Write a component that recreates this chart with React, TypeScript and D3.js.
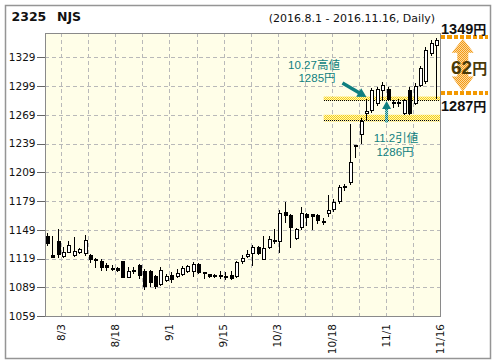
import * as d3 from 'd3';

// trading days 2016.8.1 - 2016.11.16
const dates = [
  '8/1', '8/2', '8/3', '8/4', '8/5', '8/8', '8/9', '8/10', '8/12', '8/15', '8/16', '8/17', '8/18', '8/19',
  '8/22', '8/23', '8/24', '8/25', '8/26', '8/29', '8/30', '8/31',
  '9/1', '9/2', '9/5', '9/6', '9/7', '9/8', '9/9', '9/12', '9/13', '9/14', '9/15', '9/16', '9/20', '9/21',
  '9/23', '9/26', '9/27', '9/28', '9/29', '9/30',
  '10/3', '10/4', '10/5', '10/6', '10/7', '10/11', '10/12', '10/13', '10/14', '10/17', '10/18', '10/19',
  '10/20', '10/21', '10/24', '10/25', '10/26', '10/27', '10/28', '10/31',
  '11/1', '11/2', '11/4', '11/7', '11/8', '11/9', '11/10', '11/11', '11/14', '11/15', '11/16',
];

const open = [
  1142, 1123, 1137, 1122, 1126, 1123, 1126, 1125, 1123, 1118, 1116, 1112, 1109, 1109,
  1116, 1100, 1107, 1112, 1106, 1106, 1101, 1092,
  1097, 1102, 1101, 1103, 1106, 1106, 1113, 1105, 1103, 1102, 1102, 1101, 1102, 1101,
  1116, 1122, 1125, 1131, 1119, 1131,
  1138, 1137, 1168, 1164, 1140, 1152, 1165, 1165, 1164, 1158, 1166, 1171,
  1179, 1195, 1199, 1237, 1249, 1271, 1274, 1281,
  1295, 1296, 1282, 1281, 1271, 1295, 1281, 1300, 1304, 1333, 1342,
];
const high = [
  1146, 1142, 1150, 1131, 1137, 1141, 1130, 1144, 1124, 1120, 1118, 1114, 1112, 1110,
  1116, 1110, 1110, 1113, 1108, 1107, 1102, 1110,
  1103, 1105, 1108, 1111, 1112, 1115, 1114, 1105, 1103, 1103, 1106, 1105, 1106, 1116,
  1123, 1128, 1133, 1132, 1142, 1142,
  1150, 1170, 1178, 1165, 1151, 1173, 1166, 1165, 1165, 1161, 1185, 1181,
  1196, 1197, 1259, 1237, 1266, 1285, 1297, 1298,
  1303, 1298, 1284, 1285, 1285, 1298, 1302, 1320, 1340, 1347, 1349,
];
const low = [
  1133, 1121, 1121, 1121, 1126, 1122, 1125, 1123, 1115, 1110, 1107, 1107, 1107, 1106,
  1100, 1100, 1104, 1099, 1087, 1090, 1088, 1091,
  1096, 1095, 1100, 1102, 1105, 1101, 1104, 1099, 1100, 1100, 1099, 1098, 1098, 1100,
  1114, 1121, 1112, 1124, 1118, 1130,
  1135, 1126, 1157, 1131, 1139, 1150, 1154, 1150, 1156, 1155, 1163, 1169,
  1177, 1190, 1197, 1225, 1240, 1265, 1272, 1279,
  1284, 1285, 1277, 1278, 1270, 1270, 1280, 1299, 1302, 1331, 1287,
];
const close = [
  1135, 1121, 1124, 1126, 1133, 1127, 1129, 1138, 1118, 1117, 1110, 1110, 1108, 1107,
  1100, 1106, 1106, 1102, 1090, 1094, 1090, 1107,
  1101, 1098, 1104, 1109, 1111, 1113, 1105, 1104, 1101, 1101, 1101, 1101, 1099, 1115,
  1120, 1124, 1131, 1125, 1130, 1139,
  1137, 1167, 1164, 1152, 1150, 1166, 1162, 1163, 1159, 1158, 1170, 1178,
  1194, 1194, 1220, 1236, 1262, 1273, 1295, 1296,
  1300, 1286, 1282, 1282, 1284, 1271, 1299, 1318, 1337, 1344, 1347,
];

const yTicks = [1059, 1089, 1119, 1149, 1179, 1209, 1239, 1269, 1299, 1329];
const gridIdx = d3.range(2, 73, 5);
const labelIdx = d3.range(2, 73, 10);

// annotation levels (yen)
const upperBand = [1288, 1283.5];
const lowerBand = [1269, 1262];
const rangeHigh = 1349;
const rangeLow = 1287;

const teal = '#0f7f80';
const axisFont = 'DejaVu Sans, Verdana, sans-serif';
const jpFont = 'Liberation Sans, Noto Sans CJK JP, sans-serif';

function arrowPath(x1: number, y1: number, x2: number, y2: number, shaft: number, headLen: number, headW: number) {
  const len = Math.hypot(x2 - x1, y2 - y1);
  const ux = (x2 - x1) / len, uy = (y2 - y1) / len;
  const nx = -uy, ny = ux;
  const hx = x2 - ux * headLen, hy = y2 - uy * headLen;
  const pts: [number, number][] = [
    [x1 + nx * shaft / 2, y1 + ny * shaft / 2],
    [hx + nx * shaft / 2, hy + ny * shaft / 2],
    [hx + nx * headW / 2, hy + ny * headW / 2],
    [x2, y2],
    [hx - nx * headW / 2, hy - ny * headW / 2],
    [hx - nx * shaft / 2, hy - ny * shaft / 2],
    [x1 - nx * shaft / 2, y1 - ny * shaft / 2],
  ];
  return d3.line()(pts) + 'Z';
}

export default function App() {
  const left = 45, right = 440, top = 33, bottom = 316;
  const x = d3.scaleBand<number>().domain(d3.range(dates.length)).range([left, right]);
  const bw = x.bandwidth();
  const y = d3.scaleLinear().domain([1059, 1329]).range([bottom, 57.3]);
  const cx = (i: number) => (x(i) ?? 0) + bw / 2;

  // double arrow for the 62 yen range
  const ac = 462.8, aT = y(rangeHigh) + 0.5, aB = y(rangeLow) - 6;
  const dbl: [number, number][] = [
    [ac, aT], [ac + 11, aT + 14], [ac + 5.5, aT + 14], [ac + 5.5, aB - 15], [ac + 11, aB - 15],
    [ac, aB], [ac - 11, aB - 15], [ac - 5.5, aB - 15], [ac - 5.5, aT + 14], [ac - 11, aT + 14],
  ];

  const a1tip: [number, number] = [cx(59) - 0.5, y(rangeLow) - 0.5];
  const a2x = cx(63) - 2;

  return (
    <svg width={496} height={364} style={{ position: 'absolute', left: 0, top: 0, background: '#fff' }}>
      <defs>
        <pattern id="ditherO" width="2" height="2" patternUnits="userSpaceOnUse">
          <rect width="2" height="2" fill="#fcd8a0" />
          <rect width="1" height="1" fill="#f39a14" />
          <rect x="1" y="1" width="1" height="1" fill="#f39a14" />
        </pattern>
        <pattern id="ditherY" width="2" height="2" patternUnits="userSpaceOnUse">
          <rect width="2" height="2" fill="#fff6b8" />
          <rect width="1" height="1" fill="#f5cf1a" />
          <rect x="1" y="1" width="1" height="1" fill="#f5cf1a" />
        </pattern>
        <pattern id="ditherT" width="2" height="2" patternUnits="userSpaceOnUse">
          <rect width="2" height="2" fill="#9fd6d6" />
          <rect width="1" height="1" fill={teal} />
          <rect x="1" y="1" width="1" height="1" fill={teal} />
        </pattern>
      </defs>

      <rect x={5.5} y={5.5} width={485} height={353} fill="#fff" stroke="#959595" strokeWidth={1.5} />

      <text x={11.5} y={20.5} fontFamily={axisFont} fontWeight="bold" fontSize={12.5} fill="#111">2325</text>
      <text x={57} y={20.5} fontFamily={axisFont} fontWeight="bold" fontSize={12.5} fill="#111">NJS</text>
      <text x={435} y={21.5} textAnchor="end" fontFamily={axisFont} fontSize={11} fill="#111">
        (2016.8.1 - 2016.11.16, Daily)
      </text>

      {/* plot background */}
      <rect x={left} y={top} width={right - left} height={bottom - top} fill="#fffee8" />

      {/* grid */}
      <g stroke="#b9b9b9" strokeWidth={1} strokeDasharray="4 3" shapeRendering="crispEdges">
        {yTicks.map((t) => (
          <line key={'h' + t} x1={left} x2={right} y1={Math.round(y(t)) + 0.5} y2={Math.round(y(t)) + 0.5} />
        ))}
        {gridIdx.map((i) => {
          const gx = Math.round((x(i) ?? 0) + bw) + 0.5;
          return <line key={'v' + i} x1={gx} x2={gx} y1={top} y2={bottom} />;
        })}
      </g>

      {/* level bands */}
      {[upperBand, lowerBand].map((b, k) => (
        <g key={'band' + k}>
          <rect x={cx(51)} y={y(b[0])} width={right - cx(51)} height={y(b[1]) - y(b[0])} fill="url(#ditherY)" />
          <line x1={cx(51)} x2={right} y1={Math.round(y(b[1])) - 0.5} y2={Math.round(y(b[1])) - 0.5}
            stroke="#000" strokeWidth={1} strokeDasharray="1 1" shapeRendering="crispEdges" />
        </g>
      ))}

      {/* candles */}
      <g shapeRendering="crispEdges">
        {dates.map((d, i) => {
          const l = Math.round(cx(i) - 2);
          const o = open[i], c = close[i];
          const yt = Math.round(y(Math.max(o, c)));
          const yb = Math.round(y(Math.min(o, c)));
          const up = c >= o;
          return (
            <g key={d}>
              <line x1={l + 1.5} x2={l + 1.5} y1={Math.round(y(high[i]))} y2={Math.round(y(low[i])) + 1} stroke="#000" />
              {yb - yt < 2 ? (
                <rect x={l} y={yt} width={4} height={Math.max(yb - yt, 1) + 1} fill="#000" />
              ) : (
                <rect x={l + 0.5} y={yt + 0.5} width={3} height={yb - yt} fill={up ? '#fff' : '#000'} stroke="#000" />
              )}
            </g>
          );
        })}
      </g>

      {/* frame and axes */}
      <rect x={left + 0.5} y={top + 0.5} width={right - left} height={bottom - top} fill="none" stroke="#8a8a8a"
        shapeRendering="crispEdges" />
      {yTicks.map((t) => (
        <g key={'yt' + t}>
          <line x1={37} x2={left} y1={Math.round(y(t)) + 0.5} y2={Math.round(y(t)) + 0.5} stroke="#666"
            shapeRendering="crispEdges" />
          <text x={35.5} y={y(t)} dy="0.36em" textAnchor="end" fontFamily={axisFont} fontSize={10.5} fill="#111">
            {t}
          </text>
        </g>
      ))}
      {labelIdx.map((i) => {
        const gx = (x(i) ?? 0) + bw;
        return (
          <text key={'xl' + i} transform={`translate(${gx},324) rotate(-90)`} dy="0.36em" textAnchor="end"
            fontFamily={axisFont} fontSize={10.5} fill="#111">
            {dates[i]}
          </text>
        );
      })}

      {/* 10.27 high annotation */}
      <path d={arrowPath(a1tip[0] - 24, a1tip[1] - 14, a1tip[0], a1tip[1], 3.5, 9, 10)} fill={teal} />
      <text x={314} y={68.5} textAnchor="middle" fontFamily={jpFont} fontSize={11.5} fill={teal}>10.27高値</text>
      <text x={317} y={82} textAnchor="middle" fontFamily={jpFont} fontSize={11.5} fill={teal}>1285円</text>

      {/* 11.2 close annotation */}
      <rect x={a2x - 1.5} y={y(rangeLow) + 11} width={3} height={14} fill="url(#ditherT)" />
      <path d={arrowPath(a2x, y(rangeLow) + 12, a2x, y(rangeLow) + 3.5, 3, 8, 9)} fill={teal} />
      <text x={396} y={142} textAnchor="middle" fontFamily={jpFont} fontSize={11.5} fill={teal}>11.2引値</text>
      <text x={395} y={155.5} textAnchor="middle" fontFamily={jpFont} fontSize={11.5} fill={teal}>1286円</text>

      {/* range on the right */}
      <line x1={right + 1} x2={488} y1={y(rangeHigh) - 1.5} y2={y(rangeHigh) - 1.5} stroke="#f39800" strokeWidth={4}
        strokeDasharray="4.3 2" shapeRendering="crispEdges" />
      <line x1={right + 1} x2={488} y1={y(rangeLow) - 5} y2={y(rangeLow) - 5} stroke="#f39800" strokeWidth={4}
        strokeDasharray="4.3 2" shapeRendering="crispEdges" />
      <path d={d3.line()(dbl) + 'Z'} fill="url(#ditherO)" />
      <text x={441} y={33.5} fontFamily={jpFont} fontWeight="bold" fill="#111">
        <tspan fontSize={14.5}>1349</tspan>
        <tspan fontSize={13}>円</tspan>
      </text>
      <text x={441} y={111} fontFamily={jpFont} fontWeight="bold" fill="#111">
        <tspan fontSize={14.5}>1287</tspan>
        <tspan fontSize={13}>円</tspan>
      </text>
      <text x={451} y={73.5} fontFamily={jpFont} fontWeight="bold" fill="#4a3a08">
        <tspan fontSize={19}>62</tspan>
        <tspan fontSize={15}>円</tspan>
      </text>
    </svg>
  );
}
